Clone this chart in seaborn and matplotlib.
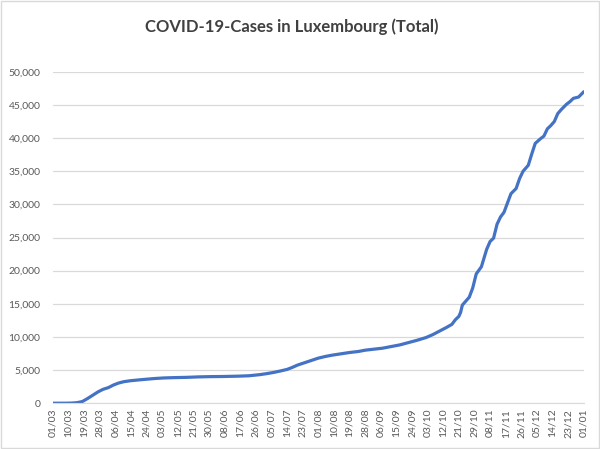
"""COVID-19 cumulative cases in Luxembourg, Excel-style line chart."""

import matplotlib
matplotlib.use("Agg")
import matplotlib.pyplot as plt
import matplotlib.ticker as mticker
from matplotlib.patches import Rectangle
import numpy as np
import pandas as pd
import seaborn as sns

# readings taken off the chart (day/month, total cases)
dates = [
    "01/03", "08/03", "12/03", "15/03", "18/03", "21/03", "24/03", "27/03", "30/03",
    "02/04", "05/04", "08/04", "11/04", "15/04", "19/04", "24/04", "29/04",
    "04/05", "10/05", "17/05", "24/05", "31/05",
    "07/06", "16/06", "22/06", "28/06",
    "02/07", "06/07", "10/07", "14/07", "17/07", "20/07", "24/07", "28/07",
    "01/08", "05/08", "09/08", "14/08", "19/08", "24/08", "28/08",
    "02/09", "07/09", "12/09", "17/09", "22/09", "27/09",
    "02/10", "06/10", "10/10", "14/10", "17/10", "19/10", "21/10", "22/10",
    "23/10", "25/10", "27/10", "29/10", "31/10",
    "03/11", "06/11", "08/11", "10/11", "12/11", "14/11", "16/11", "18/11",
    "20/11", "23/11", "25/11", "27/11", "30/11",
    "02/12", "04/12", "07/12", "09/12", "11/12", "13/12", "15/12", "17/12",
    "19/12", "22/12", "24/12", "26/12", "29/12", "01/01",
]
cases = [
    0, 0, 20, 80, 250, 700, 1200, 1700, 2100,
    2350, 2750, 3050, 3250, 3400, 3500, 3620, 3730,
    3810, 3860, 3900, 3970, 4010,
    4030, 4080, 4140, 4300,
    4450, 4630, 4850, 5100, 5400, 5750, 6100, 6450,
    6800, 7050, 7250, 7450, 7650, 7800, 8000,
    8150, 8300, 8550, 8800, 9150, 9500,
    9900, 10350, 10900, 11450, 11900, 12600, 13100, 13700,
    14800, 15400, 16000, 17400, 19500,
    20600, 23200, 24400, 24900, 27000, 28100, 28800, 30200,
    31600, 32400, 33900, 35000, 35900,
    37600, 39200, 39900, 40300, 41400, 41900, 42500, 43700,
    44300, 45100, 45500, 46000, 46200, 47000,
]

# category labels as printed under the axis (every 9th day)
tick_labels = [
    "01/03", "10/03", "19/03", "28/03", "06/04", "15/04", "24/04", "03/05",
    "12/05", "21/05", "30/05", "08/06", "17/06", "26/06", "05/07", "14/07",
    "23/07", "01/08", "10/08", "19/08", "28/08", "06/09", "15/09", "24/09",
    "03/10", "12/10", "21/10", "29/10", "08/11", "17/11", "26/11", "05/12",
    "14/12", "23/12", "01/01",
]

df = pd.DataFrame({"date": dates, "cases": cases})
d = pd.to_datetime(df["date"] + "/2020", format="%d/%m/%Y")
df["date"] = d.where(d.dt.month >= 3, d + pd.DateOffset(years=1))

sns.set_style("white")
plt.rcParams["font.family"] = ["Lato", "DejaVu Sans"]

fig = plt.figure(figsize=(6, 4.49), dpi=100)
ax = fig.add_axes([0.088, 0.102, 0.885, 0.738])

sns.lineplot(data=df, x="date", y="cases", ax=ax, color="#4472C4",
             linewidth=2.3, solid_capstyle="round")

start = df["date"].iloc[0]
end = df["date"].iloc[-1]
ax.set_xlim(start, end)
ax.set_ylim(0, 50000)

tick_pos = pd.date_range(start, periods=len(tick_labels), freq="9D")
ax.set_xticks(tick_pos)
ax.set_xticklabels(tick_labels, rotation=90, fontsize=7.5, color="#595959")
ax.yaxis.set_major_locator(mticker.MultipleLocator(5000))
ax.yaxis.set_major_formatter(mticker.FuncFormatter(lambda v, p: f"{int(v):,}"))
ax.tick_params(axis="y", labelsize=7.5, labelcolor="#595959", length=0, pad=9)
ax.tick_params(axis="x", length=0, pad=4)

ax.grid(axis="y", color="#d9d9d9", linewidth=0.9)
ax.set_axisbelow(True)
for side in ["top", "right", "left"]:
    ax.spines[side].set_visible(False)
ax.spines["bottom"].set_color("#d9d9d9")
ax.set_xlabel("")
ax.set_ylabel("")

fig.text(0.487, 0.94, "COVID-19-Cases in Luxembourg (Total)", ha="center",
         va="center", fontsize=12, fontweight="bold", color="#404040")

# light frame round the chart area
fig.patches.append(Rectangle((0.002, 0.002), 0.996, 0.996, transform=fig.transFigure,
                             fill=False, edgecolor="#d9d9d9", linewidth=1))

fig.savefig("out.png", dpi=100)
